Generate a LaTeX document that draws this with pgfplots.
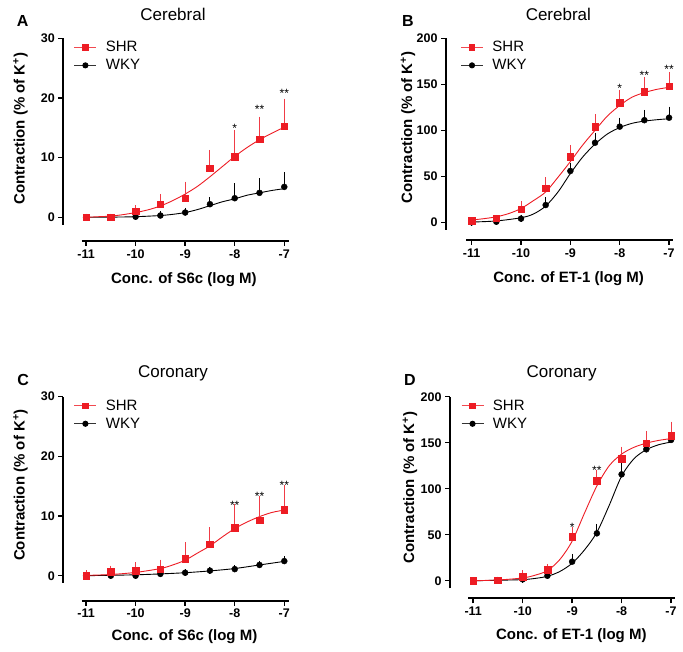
\documentclass[border=0pt]{standalone}
\usepackage{pgfplots}
\pgfplotsset{compat=1.18}
\usepackage{pgfplotstable}
\usepackage{fontspec}
\setmainfont{Liberation Sans}
\definecolor{shr}{RGB}{237,28,36}
\definecolor{shrbar}{RGB}{240,60,70}

% ---------- Panel A: Cerebral, S6c ----------
\pgfplotstableread{
x y e
-11 0 0
-10.5 0 0
-10 1.05 0.35
-9.5 2.2 1.15
-9 3.2 2.2
-8.5 8.2 2.5
-8 10.2 3.8
-7.5 13.1 3.2
-7 15.3 4.0
}\Ashr
\pgfplotstableread{
x y e
-11 0 0
-10.5 0 0
-10 0.1 0
-9.5 0.3 0.1
-9 0.8 0.2
-8.5 2.2 0.6
-8 3.2 1.9
-7.5 4.1 1.9
-7 5.1 1.9
}\Awky
\pgfplotstableread{
x y
-11 0
-10.75 0.1
-10.5 0.2
-10.25 0.45
-10 0.8
-9.75 1.25
-9.5 1.9
-9.25 2.8
-9 3.9
-8.75 5.2
-8.5 6.8
-8.25 8.5
-8 10.2
-7.75 11.7
-7.5 13.0
-7.25 14.1
-7 15.1
}\Ashrfit
\pgfplotstableread{
x y
-11 0
-10.5 0.03
-10 0.1
-9.5 0.3
-9.25 0.5
-9 0.8
-8.75 1.3
-8.5 1.95
-8.25 2.6
-8 3.1
-7.75 3.7
-7.5 4.1
-7.25 4.5
-7 4.8
}\Awkyfit

% ---------- Panel B: Cerebral, ET-1 ----------
\pgfplotstableread{
x y e
-11 1.8 0
-10.5 4.3 0
-10 14.1 5.4
-9.5 37 8.2
-9 71.3 9.1
-8.5 104 9.7
-8 130 10
-7.5 142 12
-7 148 11.8
}\Bshr
\pgfplotstableread{
x y e
-11 0 0
-10.5 0.7 0
-10 4 0.5
-9.5 18.8 4.7
-9 55.8 5.2
-8.5 86.5 6.5
-8 104 6
-7.5 111 7.5
-7 113.7 8.3
}\Bwky
\pgfplotstableread{
x y
-11 2.5
-10.75 4
-10.5 6
-10.25 9.5
-10 15
-9.75 23.5
-9.5 33
-9.25 49
-9 66
-8.75 84
-8.5 100
-8.25 115.5
-8 127
-7.75 136
-7.5 141
-7.25 144.5
-7 146.7
}\Bshrfit
\pgfplotstableread{
x y
-11 0.3
-10.5 1.5
-10 5
-9.75 9
-9.5 17.7
-9.25 33
-9 53
-8.75 71
-8.5 85
-8.25 96
-8 103
-7.75 107.6
-7.5 110
-7.25 111.5
-7 112.6
}\Bwkyfit

% ---------- Panel C: Coronary, S6c ----------
\pgfplotstableread{
x y e
-11 0 0.3
-10.5 0.7 0.4
-10 0.85 0.85
-9.5 1.1 1.0
-9 2.8 2.2
-8.5 5.25 2.25
-8 8.05 3.35
-7.5 9.3 3.5
-7 11.1 3.5
}\Cshr
\pgfplotstableread{
x y e
-11 0 0
-10.5 0 0
-10 0 0
-9.5 0.3 0
-9 0.5 0
-8.5 0.85 0.1
-8 1.1 0.1
-7.5 1.8 0.15
-7 2.45 0.2
}\Cwky
\pgfplotstableread{
x y
-11 0.05
-10.5 0.2
-10 0.55
-9.5 1.2
-9.25 1.8
-9 2.6
-8.75 3.8
-8.5 5.0
-8.25 6.5
-8 7.9
-7.75 9.0
-7.5 9.9
-7.25 10.6
-7 11.0
}\Cshrfit
\pgfplotstableread{
x y
-11 0
-10.5 0.07
-10 0.15
-9.5 0.3
-9 0.5
-8.5 0.8
-8 1.2
-7.5 1.8
-7 2.4
}\Cwkyfit

% ---------- Panel D: Coronary, ET-1 ----------
\pgfplotstableread{
x y e
-11 0 0
-10.5 0.7 0
-10 4.7 2.9
-9.5 12.3 2.2
-9 47.8 6.6
-8.5 108.7 7.3
-8 132.3 9.7
-7.5 149.3 9.7
-7 157.3 11.7
}\Dshr
\pgfplotstableread{
x y e
-11 0 0
-10.5 0.3 0
-10 1.5 0
-9.5 5.4 0
-9 20.7 4.7
-8.5 51.5 6.5
-8 115.6 8.4
-7.5 142.8 3
-7 153 11.6
}\Dwky
\pgfplotstableread{
x y
-11 0
-10.5 0.8
-10 3
-9.75 6
-9.5 11
-9.25 23
-9 43
-8.75 73.5
-8.5 103
-8.25 125
-8 137.6
-7.75 145
-7.5 149.5
-7.25 152.5
-7 154.5
}\Dshrfit
\pgfplotstableread{
x y
-11 0
-10.5 0.5
-10 1.2
-9.75 2.5
-9.5 4.8
-9.25 10
-9 19
-8.75 33.5
-8.5 52.6
-8.25 82
-8 113.7
-7.75 132.6
-7.5 142.4
-7.25 147.8
-7 150.7
}\Dwkyfit

\pgfplotsset{
  base/.style={
    scale only axis, clip=false,
    axis x line=bottom, axis y line=left,
    axis line style={-, line width=1.7pt},
    every tick/.style={black, line width=1.5pt},
    tick align=outside,
    major tick length=5pt,
    xtick={-11,-10,-9,-8,-7},
    xticklabels={-11,-10,-9,-8,-7},
    minor tick num=0,
    tick label style={font=\bfseries\fontsize{12.5}{14}\selectfont},
    x label style={font=\bfseries\fontsize{15}{18}\selectfont, anchor=center},
    y label style={font=\bfseries\fontsize{15}{18}\selectfont, anchor=center},
    ylabel={Contraction (\% of K\textsuperscript{+})},
    title style={font=\fontsize{17}{20}\selectfont, anchor=center},
    legend style={draw=none, fill=none, font=\fontsize{15}{17}\selectfont,
      anchor=north west, legend cell align=left, column sep=7pt, row sep=2pt},
    legend image code/.code={\draw[mark repeat=2,mark phase=2,##1] plot coordinates {(0pt,0pt) (11pt,0pt) (22pt,0pt)};},
  },
  shrpts/.style={shr, only marks, mark=square*, mark size=3.3pt, forget plot,
    error bars/.cd, y dir=plus, y explicit,
    error bar style={line width=1pt, shrbar},
    error mark options={line width=1pt, mark size=3.5pt, shrbar}},
  wkypts/.style={black, only marks, mark=*, mark size=3pt, forget plot,
    error bars/.cd, y dir=plus, y explicit,
    error bar style={line width=1pt, black},
    error mark options={line width=1pt, mark size=3.5pt, black}},
  shrfit/.style={shr, line width=0.9pt, smooth, no marks, forget plot},
  wkyfit/.style={black, line width=0.9pt, smooth, no marks, forget plot},
}
\newcommand{\legendimgs}{%
  \addlegendimage{shr!80, line width=0.9pt, mark=square*, mark size=2.8pt, mark options={shr}}
  \addlegendentry{SHR}
  \addlegendimage{black!80, line width=0.9pt, mark=*, mark size=2.6pt, mark options={black}}
  \addlegendentry{WKY}
}
\newcommand{\sig}[3]{\node[font=\fontsize{12}{13}\selectfont, anchor=center, yshift=-2.8pt] at (axis cs:#1,#2) {#3};}

\begin{document}
\begin{tikzpicture}
\useasboundingbox (0,0) rectangle (683pt,651pt);

% Panel A
\begin{axis}[base, at={(63.3pt,410pt)}, anchor=south west,
  width=225.7pt, height=202.7pt,
  xmin=-11.459, xmax=-6.905, ymin=-3.97, ymax=30,
  x axis line style={shorten <=18.4pt}, y axis line style={shorten <=16pt},
  ytick={0,10,20,30}, yticklabels={0,10,20,30},
  xlabel={Conc. of S6c (log M)},
  x label style={at={(axis description cs:0.534,-0.19)}},
  y label style={at={(axis description cs:-0.19,0.555)}},
  title={Cerebral}, title style={at={(axis description cs:0.486,1.088)}},
  legend style={at={(axis description cs:0.033,1.005)}},
]
\legendimgs
\addplot[wkyfit] table[x=x,y=y] {\Awkyfit};
\addplot[shrfit] table[x=x,y=y] {\Ashrfit};
\addplot[wkypts] table[x=x,y=y,y error=e] {\Awky};
\addplot[shrpts] table[x=x,y=y,y error=e] {\Ashr};
\sig{-8}{15.3}{*}
\sig{-7.5}{18.5}{**}
\sig{-7}{21.2}{**}
\node[font=\bfseries\fontsize{16}{18}\selectfont] at (axis description cs:-0.18,1.085) {A};
\end{axis}

% Panel B
\begin{axis}[base, at={(446pt,411pt)}, anchor=south west,
  width=227pt, height=201.7pt,
  xmin=-11.52, xmax=-6.92, ymin=-19.2, ymax=200,
  x axis line style={shorten <=20pt}, y axis line style={shorten <=10pt},
  ytick={0,50,100,150,200}, yticklabels={0,50,100,150,200},
  xlabel={Conc. of ET-1 (log M)},
  x label style={at={(axis description cs:0.540,-0.19)}},
  y label style={at={(axis description cs:-0.168,0.558)}},
  title={Cerebral}, title style={at={(axis description cs:0.495,1.088)}},
  legend style={at={(axis description cs:0.05,1.005)}},
]
\legendimgs
\addplot[wkyfit] table[x=x,y=y] {\Bwkyfit};
\addplot[shrfit] table[x=x,y=y] {\Bshrfit};
\addplot[wkypts] table[x=x,y=y,y error=e] {\Bwky};
\addplot[shrpts] table[x=x,y=y,y error=e] {\Bshr};
\sig{-8}{149}{*}
\sig{-7.5}{162.6}{**}
\sig{-7}{169}{**}
\node[font=\bfseries\fontsize{16}{18}\selectfont] at (axis description cs:-0.168,1.084) {B};
\end{axis}

% Panel C
\begin{axis}[base, at={(63.3pt,50.3pt)}, anchor=south west,
  width=225.7pt, height=204pt,
  xmin=-11.459, xmax=-6.905, ymin=-4.19, ymax=30,
  x axis line style={shorten <=18.4pt}, y axis line style={shorten <=17.7pt},
  ytick={0,10,20,30}, yticklabels={0,10,20,30},
  xlabel={Conc. of S6c (log M)},
  x label style={at={(axis description cs:0.537,-0.177)}},
  y label style={at={(axis description cs:-0.19,0.567)}},
  title={Coronary}, title style={at={(axis description cs:0.486,1.086)}},
  legend style={at={(axis description cs:0.033,1.005)}},
]
\legendimgs
\addplot[wkyfit] table[x=x,y=y] {\Cwkyfit};
\addplot[shrfit] table[x=x,y=y] {\Cshrfit};
\addplot[wkypts] table[x=x,y=y,y error=e] {\Cwky};
\addplot[shrpts] table[x=x,y=y,y error=e] {\Cshr};
\sig{-8}{12.3}{**}
\sig{-7.5}{13.8}{**}
\sig{-7}{15.6}{**}
\node[font=\bfseries\fontsize{16}{18}\selectfont] at (axis description cs:-0.178,1.084) {C};
\end{axis}

% Panel D
\begin{axis}[base, at={(450pt,52.7pt)}, anchor=south west,
  width=225pt, height=201.6pt,
  xmin=-11.47, xmax=-6.92, ymin=-19.1, ymax=200,
  x axis line style={shorten <=18.3pt}, y axis line style={shorten <=10pt},
  ytick={0,50,100,150,200}, yticklabels={0,50,100,150,200},
  xlabel={Conc. of ET-1 (log M)},
  x label style={at={(axis description cs:0.539,-0.186)}},
  y label style={at={(axis description cs:-0.178,0.550)}},
  title={Coronary}, title style={at={(axis description cs:0.496,1.087)}},
  legend style={at={(axis description cs:0.035,1.005)}},
]
\legendimgs
\addplot[wkyfit] table[x=x,y=y] {\Dwkyfit};
\addplot[shrfit] table[x=x,y=y] {\Dshrfit};
\addplot[wkypts] table[x=x,y=y,y error=e] {\Dwky};
\addplot[shrpts] table[x=x,y=y,y error=e] {\Dshr};
\sig{-9}{61.3}{*}
\sig{-8.5}{123.3}{**}
\node[font=\bfseries\fontsize{16}{18}\selectfont] at (axis description cs:-0.178,1.084) {D};
\end{axis}
\end{tikzpicture}
\end{document}
